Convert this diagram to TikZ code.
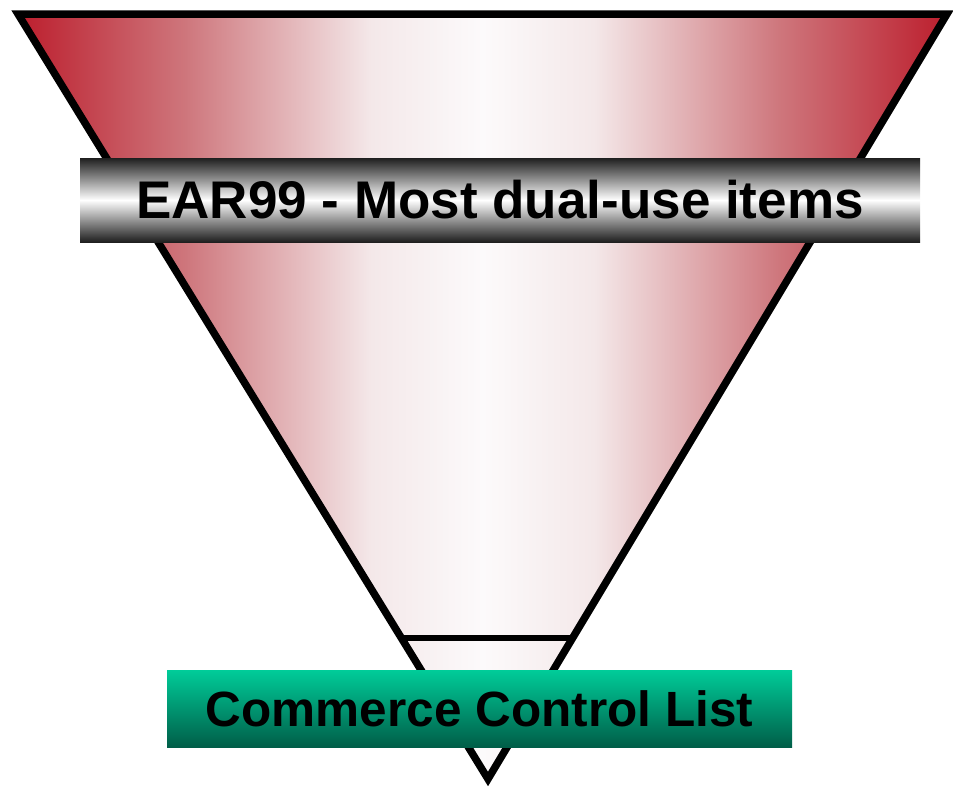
\documentclass[tikz,border=0pt]{standalone}
\usepackage{fontspec}
\setmainfont{Liberation Sans}
\definecolor{earred}{RGB}{188,30,45}
\definecolor{earrose}{RGB}{206,118,124}
\definecolor{earblush}{RGB}{244,232,233}
\definecolor{earwhite}{RGB}{252,250,251}
\definecolor{cclgreen}{RGB}{0,204,153}
\definecolor{ccldark}{RGB}{0,94,72}
\pgfdeclarehorizontalshading{funnel}{100bp}{color(0bp)=(earred); color(25bp)=(earred); color(34bp)=(earrose); color(44bp)=(earblush); color(50bp)=(earwhite); color(56bp)=(earblush); color(66bp)=(earrose); color(75bp)=(earred); color(100bp)=(earred)}
\begin{document}
\begin{tikzpicture}[x=1pt,y=-1pt]
    \useasboundingbox (0,0) rectangle (953,787);
    \begin{scope}
        \coordinate (topleft) at (18,14);
        \coordinate (topright) at (947,14);
        \coordinate (tip) at (488,779);
        \coordinate (cutleft) at (402,638);
        \coordinate (cutright) at (573,638);
        \path[shading=funnel] (topleft) -- (topright) -- (tip) -- cycle;
        \draw[line width=7.5pt, line join=miter] (topleft) -- (topright) -- (tip) -- cycle;
        \draw[line width=5.5pt] (cutleft) -- (cutright);
    \end{scope}
    \begin{scope}
        \tikzstyle{every node}=[inner sep=0pt, text=black, font=\bfseries]
        \node[minimum width=840pt, minimum height=84pt, top color=black!88, bottom color=black!88, middle color=white, font=\fontsize{53}{60}\selectfont\bfseries] (ear99) at (500,200) {EAR99 - Most dual-use items};
        \node[minimum width=625pt, minimum height=77pt, top color=cclgreen, bottom color=ccldark, font=\fontsize{49.5}{56}\selectfont\bfseries] (ccl) at (479.5,708.5) {Commerce Control List};
    \end{scope}
\end{tikzpicture}
\end{document}
